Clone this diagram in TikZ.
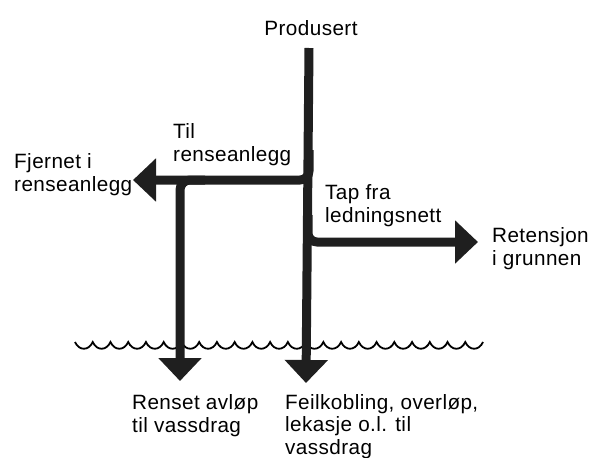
\documentclass[tikz,border=0pt]{standalone}
\usepackage{fontspec}
\setmainfont[LetterSpace=2]{Liberation Sans}
\usetikzlibrary{arrows.meta}
\begin{document}
\begin{tikzpicture}[x=1pt,y=-1pt,
  flow/.style={line width=9pt, draw=black!88, -{Triangle[length=23pt 0 0,width=42pt 0 0]}},
  lbl/.style={font=\fontsize{20.7}{22.5}\selectfont, align=left, inner sep=0pt, anchor=base west},
  wave/.style={line width=1.8pt, draw=black}]
\useasboundingbox (0,0) rectangle (598,458);

% water surface
\coordinate (w0) at (75,342);
\draw[wave] (w0) \foreach \i in {1,...,23} { .. controls +(4,9) and +(-4,9) .. ++(17.74,0) };

% flows
\coordinate (top) at (309,48);
\coordinate (bot) at (306,383);
\coordinate (j1) at (309,150);
\coordinate (ltip) at (133,180);
\coordinate (l0) at (205,180);
\coordinate (lbot) at (180,381);
\coordinate (j2) at (308,215);
\coordinate (rtip) at (478,242);

\draw[flow, rounded corners=9pt] (j1) |- (ltip);
\draw[flow, rounded corners=10pt] (l0) -| (lbot);
\draw[flow, rounded corners=9pt] (j2) |- (rtip);
\draw[flow] (top) -- (bot);

% labels (base anchor = baseline of the last line)
\node[lbl, anchor=base] (prod) at (311,35) {Produsert};
\node[lbl] (til) at (173,161) {Til\\renseanlegg};
\node[lbl] (fjern) at (14,191) {Fjernet i\\renseanlegg};
\node[lbl] (tap) at (325,222) {Tap fra\\ledningsnett};
\node[lbl] (ret) at (492,265) {Retensjon\\i grunnen};
\node[lbl] (rens) at (132,432) {Renset avløp\\til vassdrag};
\node[lbl] (feil) at (285,454) {Feilkobling, overløp,\\lekasje o.l. til\\vassdrag};
\end{tikzpicture}
\end{document}
